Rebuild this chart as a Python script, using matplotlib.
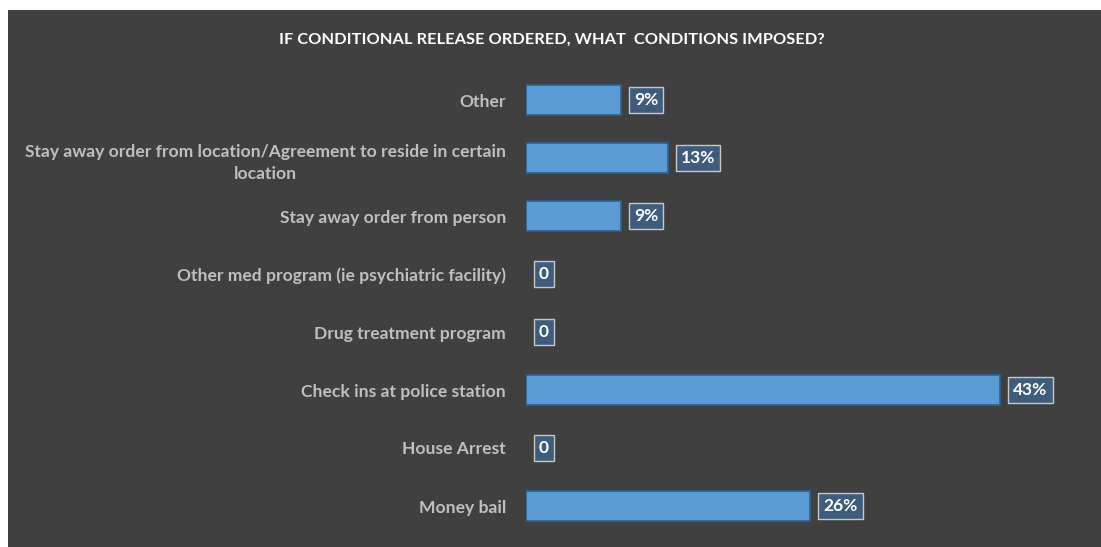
import matplotlib
matplotlib.use("Agg")
import matplotlib.pyplot as plt
from matplotlib.patches import Rectangle

plt.rcParams["font.family"] = ["Lato", "DejaVu Sans"]

categories = [
    "Other",
    "Stay away order from location/Agreement to reside in certain\nlocation",
    "Stay away order from person",
    "Other med program (ie psychiatric facility)",
    "Drug treatment program",
    "Check ins at police station",
    "House Arrest",
    "Money bail",
]
shares = [0.087, 0.130, 0.087, 0.0, 0.0, 0.435, 0.0, 0.261]
value_labels = ["9%", "13%", "9%", "0", "0", "43%", "0", "26%"]

title = "IF CONDITIONAL RELEASE ORDERED, WHAT  CONDITIONS IMPOSED?"

W, H = 1101, 547
fig = plt.figure(figsize=(W / 100, H / 100), dpi=100, facecolor="white")
fig.patches.append(Rectangle((8 / W, 0), 1, (H - 10) / H, transform=fig.transFigure,
                             facecolor="#404040", edgecolor="none", zorder=-10))

ax = fig.add_axes([526 / W, 1 - 535 / H, (1071 - 526) / W, (535 - 71) / H])
ax.set_facecolor("none")

ypos = list(range(len(categories)))
widths = [1.2 if v > 0 else 0 for v in shares]
ax.barh(ypos, shares, height=0.53, color="#5b9bd5", edgecolor="#2f6191", linewidth=widths)

for y, v, lab in zip(ypos, shares, value_labels):
    ax.text(v + 0.012, y, lab, va="center", ha="left", color="white",
            fontsize=12.5, fontweight="bold",
            bbox=dict(boxstyle="square,pad=0.3", facecolor="#3e5d7c",
                      edgecolor="#c8c8c8", linewidth=1))

ax.set_xlim(0, 0.5)
ax.set_ylim(len(categories) - 0.5, -0.5)
ax.set_yticks(ypos)
ax.set_yticklabels(categories, multialignment="center", linespacing=1.5)
ax.tick_params(axis="y", length=0, pad=14.4, colors="#bfbfbf", labelsize=12.6)
for t in ax.get_yticklabels():
    t.set_fontweight("bold")
ax.set_xticks([])
for s in ax.spines.values():
    s.set_visible(False)

fig.text(552 / W, 1 - 40 / H, title, ha="center", va="center", color="white",
         fontsize=11.8, fontweight="bold")

fig.savefig("out.png", dpi=100)
